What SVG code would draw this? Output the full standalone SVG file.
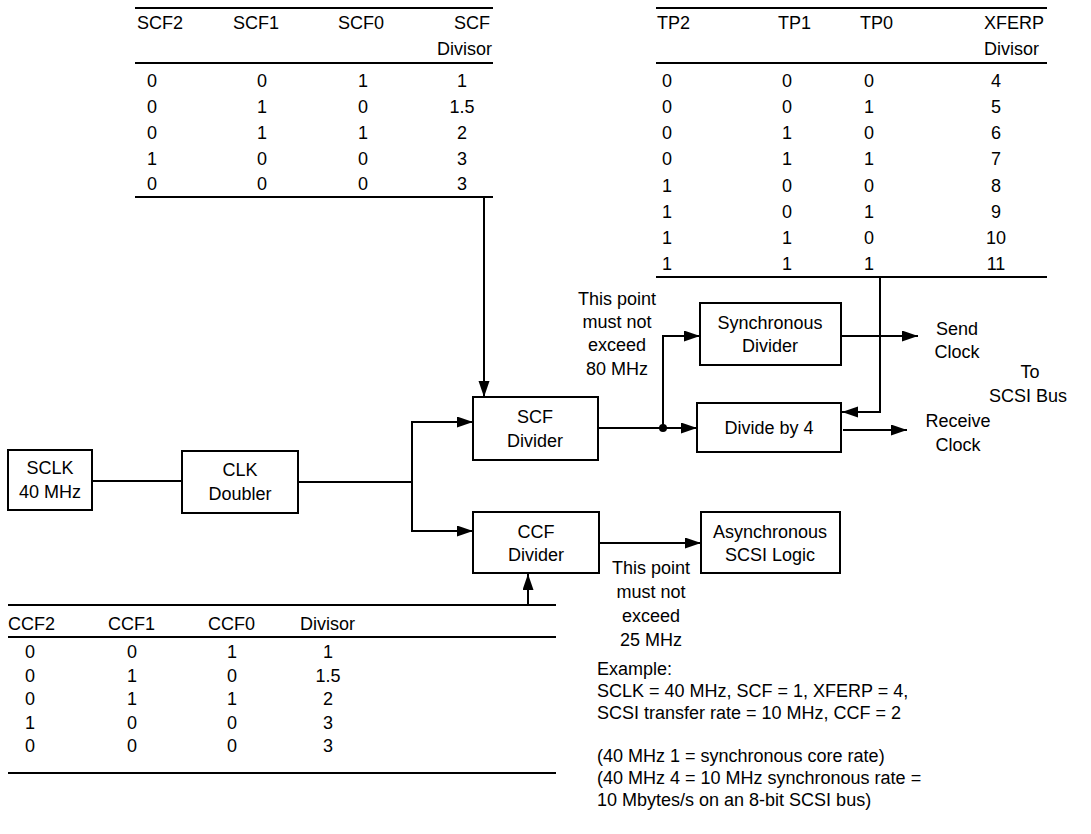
<svg xmlns="http://www.w3.org/2000/svg" width="1091" height="834" viewBox="0 0 1091 834">
<defs>
<marker id="arr" markerUnits="userSpaceOnUse" markerWidth="17" markerHeight="12" refX="16" refY="5.5" orient="auto"><path d="M0,0 L16,5.5 L0,11 z" fill="#000"/></marker>
<style>
text{font-family:"Liberation Sans",Arial,sans-serif;font-size:18px;fill:#000}
.m{text-anchor:middle}
.e{text-anchor:end}
.box{fill:#fff;stroke:#000;stroke-width:2}
.rule{stroke:#000;stroke-width:2}
.w{fill:none;stroke:#000;stroke-width:2}
</style>
</defs>
<rect width="1091" height="834" fill="#fff"/>

<g id="scf-table">
<line class="rule" x1="135" y1="8" x2="493" y2="8"/>
<line class="rule" x1="135" y1="63" x2="493" y2="63"/>
<line class="rule" x1="135" y1="197" x2="493" y2="197"/>
<text x="137" y="29">SCF2</text><text x="233" y="29">SCF1</text><text x="338" y="29">SCF0</text><text class="e" x="490" y="29">SCF</text>
<text class="e" x="492" y="55">Divisor</text>
<g class="m">
<text x="152" y="87">0</text><text x="262" y="87">0</text><text x="363" y="87">1</text><text x="462" y="87">1</text>
<text x="152" y="113">0</text><text x="262" y="113">1</text><text x="363" y="113">0</text><text x="462" y="113">1.5</text>
<text x="152" y="139">0</text><text x="262" y="139">1</text><text x="363" y="139">1</text><text x="462" y="139">2</text>
<text x="152" y="165">1</text><text x="262" y="165">0</text><text x="363" y="165">0</text><text x="462" y="165">3</text>
<text x="152" y="190">0</text><text x="262" y="190">0</text><text x="363" y="190">0</text><text x="462" y="190">3</text>
</g>
</g>

<g id="tp-table">
<line class="rule" x1="656" y1="8" x2="1047" y2="8"/>
<line class="rule" x1="656" y1="63" x2="1047" y2="63"/>
<line class="rule" x1="656" y1="277" x2="1047" y2="277"/>
<text x="657" y="29">TP2</text><text x="778" y="29">TP1</text><text x="860" y="29">TP0</text><text x="984" y="29">XFERP</text>
<text x="984" y="55">Divisor</text>
<g class="m">
<text x="667" y="87">0</text><text x="787" y="87">0</text><text x="869" y="87">0</text><text x="996" y="87">4</text>
<text x="667" y="113">0</text><text x="787" y="113">0</text><text x="869" y="113">1</text><text x="996" y="113">5</text>
<text x="667" y="139">0</text><text x="787" y="139">1</text><text x="869" y="139">0</text><text x="996" y="139">6</text>
<text x="667" y="165">0</text><text x="787" y="165">1</text><text x="869" y="165">1</text><text x="996" y="165">7</text>
<text x="667" y="192">1</text><text x="787" y="192">0</text><text x="869" y="192">0</text><text x="996" y="192">8</text>
<text x="667" y="218">1</text><text x="787" y="218">0</text><text x="869" y="218">1</text><text x="996" y="218">9</text>
<text x="667" y="244">1</text><text x="787" y="244">1</text><text x="869" y="244">0</text><text x="996" y="244">10</text>
<text x="667" y="270">1</text><text x="787" y="270">1</text><text x="869" y="270">1</text><text x="996" y="270">11</text>
</g>
</g>

<g id="ccf-table">
<line class="rule" x1="8" y1="605" x2="556" y2="605"/>
<line class="rule" x1="8" y1="637" x2="556" y2="637"/>
<line class="rule" x1="8" y1="773" x2="556" y2="773"/>
<text x="8" y="630">CCF2</text><text x="108" y="630">CCF1</text><text x="208" y="630">CCF0</text><text x="300" y="630">Divisor</text>
<g class="m">
<text x="30" y="658">0</text><text x="132" y="658">0</text><text x="232" y="658">1</text><text x="328" y="658">1</text>
<text x="30" y="682">0</text><text x="132" y="682">1</text><text x="232" y="682">0</text><text x="328" y="682">1.5</text>
<text x="30" y="705">0</text><text x="132" y="705">1</text><text x="232" y="705">1</text><text x="328" y="705">2</text>
<text x="30" y="729">1</text><text x="132" y="729">0</text><text x="232" y="729">0</text><text x="328" y="729">3</text>
<text x="30" y="752">0</text><text x="132" y="752">0</text><text x="232" y="752">0</text><text x="328" y="752">3</text>
</g>
</g>

<g id="connectors">
<line class="w" x1="92" y1="481" x2="182" y2="481"/>
<line class="w" x1="298" y1="482" x2="412" y2="482"/>
<polyline class="w" points="412,482 412,531 473,531" marker-end="url(#arr)"/>
<polyline class="w" points="412,482 412,422 473,422" marker-end="url(#arr)"/>
<line class="w" x1="484" y1="197" x2="484" y2="397" marker-end="url(#arr)"/>
<line class="w" x1="598" y1="428" x2="697" y2="428" marker-end="url(#arr)"/>
<polyline class="w" points="663,428 663,336 700,336" marker-end="url(#arr)"/>
<circle cx="663" cy="428" r="4" fill="#000"/>
<line class="w" x1="841" y1="336" x2="918" y2="336" marker-end="url(#arr)"/>
<polyline class="w" points="880,277 880,412 842,412" marker-end="url(#arr)"/>
<line class="w" x1="843" y1="430" x2="907" y2="430" marker-end="url(#arr)"/>
<line class="w" x1="599" y1="543" x2="701" y2="543" marker-end="url(#arr)"/>
<line class="w" x1="528" y1="605" x2="528" y2="574" marker-end="url(#arr)"/>
</g>

<g id="sclk"><rect class="box" x="8" y="450" width="84" height="60"/><text class="m" x="50" y="474">SCLK</text><text class="m" x="50" y="498">40 MHz</text></g>
<g id="clk-doubler"><rect class="box" x="182" y="451" width="116" height="62"/><text class="m" x="240" y="476">CLK</text><text class="m" x="240" y="500">Doubler</text></g>
<g id="scf-divider"><rect class="box" x="473" y="397" width="125" height="63"/><text class="m" x="535" y="423">SCF</text><text class="m" x="535" y="447">Divider</text></g>
<g id="ccf-divider"><rect class="box" x="473" y="512" width="126" height="61"/><text class="m" x="536" y="538">CCF</text><text class="m" x="536" y="561">Divider</text></g>
<g id="sync-divider"><rect class="box" x="700" y="303" width="141" height="62"/><text class="m" x="770" y="329">Synchronous</text><text class="m" x="770" y="352">Divider</text></g>
<g id="divide-by-4"><rect class="box" x="697" y="403" width="144" height="49"/><text class="m" x="769" y="434">Divide by 4</text></g>
<g id="async-logic"><rect class="box" x="701" y="512" width="139" height="61"/><text class="m" x="770" y="538">Asynchronous</text><text class="m" x="770" y="561">SCSI Logic</text></g>

<g id="labels">
<g class="m">
<text x="617" y="305">This point</text><text x="617" y="328">must not</text><text x="617" y="351">exceed</text><text x="617" y="375">80 MHz</text>
<text x="957" y="335">Send</text><text x="957" y="358">Clock</text>
<text x="1030" y="378">To</text><text x="1028" y="402">SCSI Bus</text>
<text x="958" y="427">Receive</text><text x="958" y="451">Clock</text>
<text x="651" y="574">This point</text><text x="651" y="598">must not</text><text x="651" y="622">exceed</text><text x="651" y="646">25 MHz</text>
</g>
<text x="597" y="675">Example:</text>
<text x="597" y="697">SCLK = 40 MHz, SCF = 1, XFERP = 4,</text>
<text x="597" y="719">SCSI transfer rate = 10 MHz, CCF = 2</text>
<text x="597" y="762">(40 MHz 1 = synchronous core rate)</text>
<text x="597" y="784">(40 MHz 4 = 10 MHz synchronous rate =</text>
<text x="597" y="806">10 Mbytes/s on an 8-bit SCSI bus)</text>
</g>
</svg>
